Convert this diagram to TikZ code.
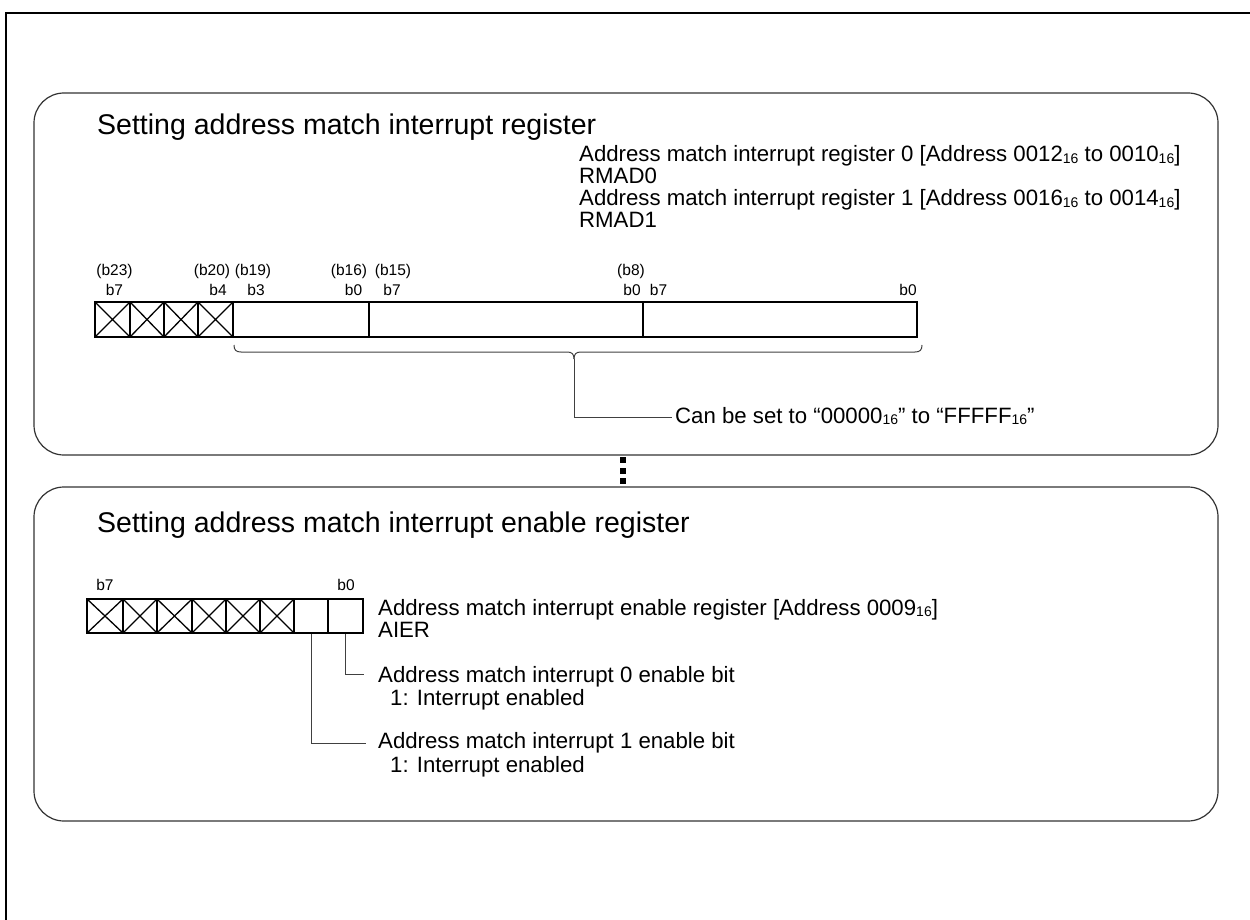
\documentclass[tikz,border=0pt]{standalone}
\usepackage{fontspec}
\setmainfont{Liberation Sans}
\newcommand{\hexsub}{\raisebox{-1.5pt}{\fontsize{14}{14}\selectfont 16}}
\tikzset{
  panel/.style={draw=black!80, line width=1.2pt, rounded corners=30pt},
  regbox/.style={draw=black, line width=1.8pt},
  xcell/.style={draw=black, line width=1.3pt},
  leader/.style={draw=black!75, line width=1pt},
  body/.style={font=\fontsize{22.2}{24}\selectfont, inner sep=0pt, anchor=base west},
  bitlbl/.style={font=\fontsize{15.5}{16}\selectfont, inner sep=0pt, anchor=base},
  ttl/.style={font=\fontsize{28.5}{30}\selectfont, inner sep=0pt, anchor=base west},
}
\begin{document}
\begin{tikzpicture}[x=1pt,y=-1pt]
\useasboundingbox (0,0) rectangle (1250,920);
% outer frame
\draw[line width=2pt] (6,930) -- (6,13) -- (1260,13);
% panels
\draw[panel] (34,93) rectangle (1218,455);
\draw[panel] (34,487) rectangle (1218,821);
% dots
\foreach \yy in {460,470.5,481} \fill (620,\yy-3) rectangle (626,\yy+3);

% ---------- top panel ----------
\node[ttl] (t1) at (97,135) {Setting address match interrupt register};
\node[body] (r0) at (579,162) {Address match interrupt register 0 [Address 0012\hexsub{} to 0010\hexsub]};
\node[body] (r0n) at (579,184) {RMAD0};
\node[body] (r1) at (579,206) {Address match interrupt register 1 [Address 0016\hexsub{} to 0014\hexsub]};
\node[body] (r1n) at (579,228) {RMAD1};

% bit labels
\node[bitlbl] (l23) at (114.5,275) {(b23)};
\node[bitlbl] (l7a) at (114.5,295) {b7};
\node[bitlbl] (l20) at (212,275) {(b20)};
\node[bitlbl] (l4) at (218,295) {b4};
\node[bitlbl] (l19) at (253,275) {(b19)};
\node[bitlbl] (l3) at (256,295) {b3};
\node[bitlbl] (l16) at (349,275) {(b16)};
\node[bitlbl] (l0a) at (353.5,295) {b0};
\node[bitlbl] (l15) at (393,275) {(b15)};
\node[bitlbl] (l7b) at (392,295) {b7};
\node[bitlbl] (l8) at (631,275) {(b8)};
\node[bitlbl] (l0b) at (632,295) {b0};
\node[bitlbl] (l7c) at (658.5,295) {b7};
\node[bitlbl] (l0c) at (908,295) {b0};

% register cells
\foreach \a/\b in {95/130,130/164,164/198,198/233} {
  \draw[xcell] (\a,302) -- (\b,337) (\a,337) -- (\b,302);
}
\foreach \a in {130,164,198} \draw[xcell] (\a,302) -- (\a,337);
\draw[regbox] (95,302) rectangle (917,337);
\draw[regbox] (233,302) -- (233,337);
\draw[regbox] (369,302) -- (369,337);
\draw[regbox] (643,302) -- (643,337);

% brace
\coordinate (tip) at (574,359);
\draw[leader] (234,345) .. controls (234,350) and (236,352) .. (241,352) -- (567,352) .. controls (572,352) and (574,354) .. (tip);
\draw[leader] (922,345) .. controls (922,350) and (920,352) .. (915,352) -- (581,352) .. controls (576,352) and (574,354) .. (tip);
\node[body] (cbs) at (675,423) {Can be set to “00000\hexsub” to “FFFFF\hexsub”};
\coordinate (cbsl) at (672,417);
\draw[leader] (tip) |- (cbsl);

% ---------- bottom panel ----------
\node[ttl] (t2) at (97,532) {Setting address match interrupt enable register};
\node[bitlbl] (m7) at (105,590) {b7};
\node[bitlbl] (m0) at (346,590) {b0};
\foreach \a/\b in {87/123,123/157,157/192,192/226,226/260,260/294} {
  \draw[xcell] (\a,599) -- (\b,633) (\a,633) -- (\b,599);
}
\foreach \a in {123,157,192,226,260} \draw[xcell] (\a,599) -- (\a,633);
\draw[regbox] (87,599) rectangle (363,633);
\draw[regbox] (294,599) -- (294,633);
\draw[regbox] (328,599) -- (328,633);

\node[body] (a1) at (378,615) {Address match interrupt enable register [Address 0009\hexsub]};
\node[body] (a2) at (378,637) {AIER};
\node[body] (e0) at (378,682) {Address match interrupt 0 enable bit};
\node[body] (e0b) at (390,705) {1: Interrupt enabled};
\node[body] (e1) at (378,748) {Address match interrupt 1 enable bit};
\node[body] (e1b) at (390,772) {1: Interrupt enabled};

\coordinate (b0c) at (345.5,634);
\coordinate (b0e) at (364,674);
\coordinate (b1c) at (311,634);
\coordinate (b1e) at (366,743);
\draw[leader] (b0c) |- (b0e);
\draw[leader] (b1c) |- (b1e);
\end{tikzpicture}
\end{document}
